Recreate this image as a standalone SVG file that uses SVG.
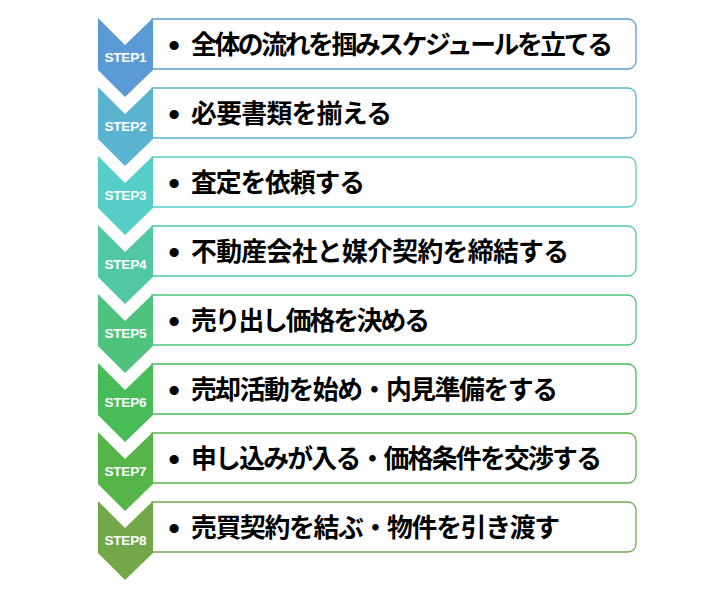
<svg xmlns="http://www.w3.org/2000/svg" width="722" height="601" viewBox="0 0 722 601">
<style>
.box{fill:#fff;stroke-width:1.3}
.step{font-family:"Liberation Sans",Arial,sans-serif;font-weight:700;font-size:13.6px;fill:#fff}
.lbl{font-family:"Noto Sans CJK JP",sans-serif;font-weight:700;font-size:25.8px;fill:#000}
.bul{font-family:"Liberation Sans",Arial,sans-serif;font-weight:700;font-size:32px;fill:#000;text-anchor:middle}
</style>
<defs>
<path id="chev" d="M98,18 L125,45 L153,18 L153,70 L125,97 L98,70 Z"/>
<path id="bx" d="M152,19 H628 A8,8 0 0 1 636,27 V61 A8,8 0 0 1 628,69 H152 Z"/>
</defs>
<rect width="722" height="601" fill="#fff"/>
<g id="step1">
<use href="#bx" class="box" stroke="#5B9BD5"/>
<use href="#chev" fill="#5B9BD5"/>
<text class="step" x="104.5" y="61.7" textLength="42">STEP1</text>
<text class="bul" x="174" y="56">•</text>
<text class="lbl" x="191" y="53.5" textLength="422">全体の流れを掴みスケジュールを立てる</text>
</g>
<g id="step2" transform="translate(0,69)">
<use href="#bx" class="box" stroke="#5BB4CF"/>
<use href="#chev" fill="#5BB4CF"/>
<text class="step" x="104.5" y="61.7" textLength="42">STEP2</text>
<text class="bul" x="174" y="56">•</text>
<text class="lbl" x="191" y="53.5" textLength="201">必要書類を揃える</text>
</g>
<g id="step3" transform="translate(0,138)">
<use href="#bx" class="box" stroke="#56CDC6"/>
<use href="#chev" fill="#56CDC6"/>
<text class="step" x="104.5" y="61.7" textLength="42">STEP3</text>
<text class="bul" x="174" y="56">•</text>
<text class="lbl" x="191" y="53.5" textLength="174">査定を依頼する</text>
</g>
<g id="step4" transform="translate(0,207)">
<use href="#bx" class="box" stroke="#52C7A6"/>
<use href="#chev" fill="#52C7A6"/>
<text class="step" x="104.5" y="61.7" textLength="42">STEP4</text>
<text class="bul" x="174" y="56">•</text>
<text class="lbl" x="191" y="53.5" textLength="378">不動産会社と媒介契約を締結する</text>
</g>
<g id="step5" transform="translate(0,276)">
<use href="#bx" class="box" stroke="#4FC27E"/>
<use href="#chev" fill="#4FC27E"/>
<text class="step" x="104.5" y="61.7" textLength="42">STEP5</text>
<text class="bul" x="174" y="56">•</text>
<text class="lbl" x="191" y="53.5" textLength="239">売り出し価格を決める</text>
</g>
<g id="step6" transform="translate(0,345)">
<use href="#bx" class="box" stroke="#49BC5A"/>
<use href="#chev" fill="#49BC5A"/>
<text class="step" x="104.5" y="61.7" textLength="42">STEP6</text>
<text class="bul" x="174" y="56">•</text>
<text class="lbl" x="191" y="53.5" textLength="367">売却活動を始め・内見準備をする</text>
</g>
<g id="step7" transform="translate(0,414)">
<use href="#bx" class="box" stroke="#55B548"/>
<use href="#chev" fill="#55B548"/>
<text class="step" x="104.5" y="61.7" textLength="42">STEP7</text>
<text class="bul" x="174" y="56">•</text>
<text class="lbl" x="191" y="53.5" textLength="411">申し込みが入る・価格条件を交渉する</text>
</g>
<g id="step8" transform="translate(0,483)">
<use href="#bx" class="box" stroke="#72A84A"/>
<use href="#chev" fill="#72A84A"/>
<text class="step" x="104.5" y="61.7" textLength="42">STEP8</text>
<text class="bul" x="174" y="56">•</text>
<text class="lbl" x="191" y="53.5" textLength="369">売買契約を結ぶ・物件を引き渡す</text>
</g>
</svg>
